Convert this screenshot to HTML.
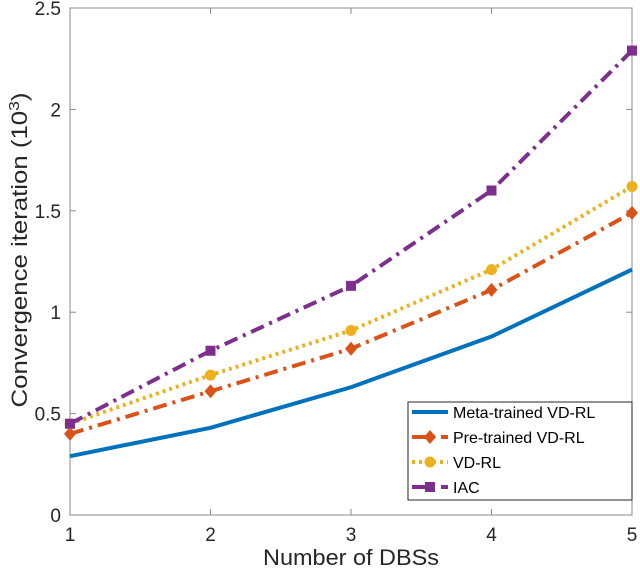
<!DOCTYPE html>
<html><head><meta charset="utf-8"><style>
body{margin:0;background:#fff;}
svg{display:block;font-family:"Liberation Sans",sans-serif;}
</style></head><body>
<svg id="chart" width="640" height="571"></svg>
<script>
const categories=[1,2,3,4,5];
const metaVals=[0.29,0.43,0.63,0.88,1.21];
const preVals=[0.40,0.61,0.82,1.11,1.49];
const vdVals=[0.45,0.69,0.91,1.21,1.62];
const iacVals=[0.45,0.81,1.13,1.60,2.29];
const yTicks=[0,0.5,1,1.5,2,2.5];
const yTickLabels=["0","0.5","1","1.5","2","2.5"];
const xTickLabels=["1","2","3","4","5"];
const NS="http://www.w3.org/2000/svg";
const svg=document.getElementById('chart');
const L=70,R=632,T=8,B=515;
const xs=v=>L+(v-1)/4*(R-L);
const ys=v=>B-v/2.5*(B-T);
function el(t,a,p){const e=document.createElementNS(NS,t);for(const k in a)e.setAttribute(k,a[k]);(p||svg).appendChild(e);return e;}
const frame=el('rect',{x:L,y:T,width:R-L,height:B-T,fill:'#fff',stroke:'#8a8a8a','stroke-width':1});


yTicks.forEach((v,i)=>{
 const y=ys(v);
 const t1=el('line',{x1:L,x2:L+6,y1:y,y2:y,stroke:'#8a8a8a'});
 
 
 el('line',{x1:R,x2:R-6,y1:y,y2:y,stroke:'#8a8a8a'});
 const tx=el('text',{x:L-9,y:y+7,'text-anchor':'end','font-size':19,fill:'#262626'});
 tx.textContent=yTickLabels[i];
 
 
});
categories.forEach((c,i)=>{
 const x=xs(c);
 const t1=el('line',{x1:x,x2:x,y1:B,y2:B-6,stroke:'#8a8a8a'});
 
 
 el('line',{x1:x,x2:x,y1:T,y2:T+6,stroke:'#8a8a8a'});
 const tx=el('text',{x:x,y:B+26,'text-anchor':'middle','font-size':19,fill:'#262626'});
 tx.textContent=xTickLabels[i];
 
 
});
const xt=el('text',{x:(L+R)/2,y:565,'text-anchor':'middle','font-size':22,fill:'#262626',textLength:176,lengthAdjust:'spacingAndGlyphs'});
xt.textContent='Number of DBSs';


const yt=el('text',{x:0,y:0,'text-anchor':'middle','font-size':22,fill:'#262626',transform:`translate(27,250) rotate(-90)`,textLength:315,lengthAdjust:'spacingAndGlyphs'});
yt.innerHTML='Convergence iteration (10<tspan dy="-8" font-size="15">3</tspan><tspan dy="8">)</tspan>';


const series=[
 {name:'Meta-trained VD-RL',vals:metaVals,color:'#0072BD',dash:'',marker:'none'},
 {name:'Pre-trained VD-RL',vals:preVals,color:'#D95319',dash:'14 6 3 6',marker:'diamond'},
 {name:'VD-RL',vals:vdVals,color:'#EDB120',dash:'3 4',marker:'circle'},
 {name:'IAC',vals:iacVals,color:'#7E2F8E',dash:'14 6 3 6',marker:'square'}
];
function marker(g,type,x,y,c){
 if(type==='diamond')return el('polygon',{points:`${x},${y-7} ${x+6},${y} ${x},${y+7} ${x-6},${y}`,fill:c},g);
 if(type==='circle')return el('circle',{cx:x,cy:y,r:5.5,fill:c},g);
 if(type==='square')return el('rect',{x:x-5,y:y-5,width:10,height:10,fill:c},g);
}
series.forEach((s,si)=>{
 const g=el('g',{});
 
 
 const pts=s.vals.map((v,i)=>xs(categories[i])+','+ys(v)).join(' ');
 const pl=el('polyline',{points:pts,fill:'none',stroke:s.color,'stroke-width':4,'stroke-dasharray':s.dash},g);
 
 
 s.vals.forEach((v,i)=>{
  const m=marker(g,s.marker,xs(categories[i]),ys(v),s.color);
  if(m){
  }
 });
});
const lg=el('g',{});


el('rect',{x:408,y:402,width:224,height:98,fill:'#fff',stroke:'#262626'},lg);
series.forEach((s,i)=>{
 const y=412+i*25;
 const e=el('g',{},lg);
 
 
 el('line',{x1:412,x2:448,y1:y,y2:y,stroke:s.color,'stroke-width':4,'stroke-dasharray':s.dash},e);
 marker(e,s.marker,430,y,s.color);
 const t=el('text',{x:453,y:y+6,'font-size':16,fill:'#000'},e);
 t.textContent=s.name;
});
</script>
</body></html>
